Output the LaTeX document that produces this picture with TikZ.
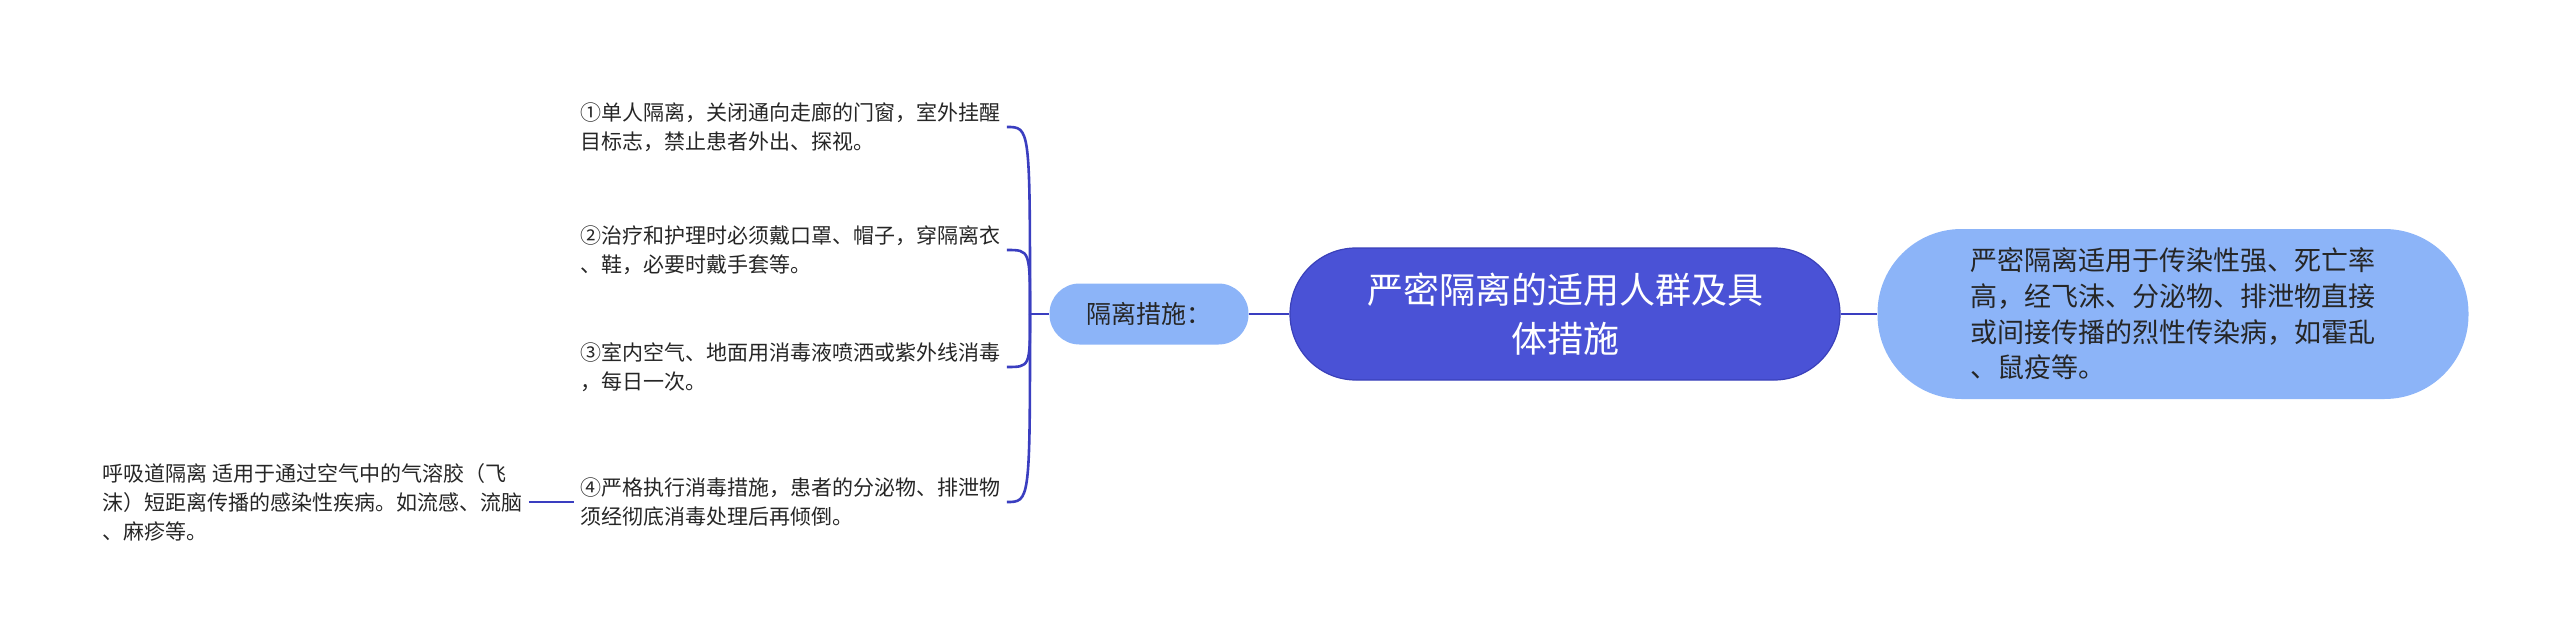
\documentclass[tikz,border=0pt]{standalone}
\usepackage{fontspec}
\setmainfont{Noto Sans CJK SC}
\usetikzlibrary{positioning}
\definecolor{rootblue}{RGB}{74,82,214}
\definecolor{rootedge}{RGB}{58,64,186}
\definecolor{subblue}{RGB}{140,180,248}
\definecolor{linkblue}{RGB}{58,62,192}

\begin{document}
\begin{tikzpicture}[x=0.5pt, y=-0.5pt]
    \tikzstyle{root}=[fill=rootblue, draw=rootedge, line width=0.6pt, text=white, rounded corners=33pt, minimum width=275pt, minimum height=66pt, align=center, font=\fontsize{18pt}{24.5pt}\selectfont]
    \tikzstyle{sub}=[fill=subblue, draw=none, align=left, text=black!85]
    \tikzstyle{item}=[anchor=west, inner sep=3pt, align=left, text=black!85, font=\fontsize{10.5pt}{14.5pt}\selectfont]
    \tikzstyle{link}=[draw=linkblue, line width=1.3pt]
    \useasboundingbox (0,0) rectangle (2560,642);
    \draw (1565,314) node[root] (root) {严密隔离的适用人群及具\\体措施} ;
    \draw (2173,314) node[sub, minimum width=295.5pt, minimum height=85pt, rounded corners=42pt, font=\fontsize{13.5pt}{17.8pt}\selectfont] (scope) {严密隔离适用于传染性强、死亡率\\高，经飞沫、分泌物、排泄物直接\\或间接传播的烈性传染病，如霍乱\\、鼠疫等。} ;
    \draw (1149,314) node[sub, minimum width=99.5pt, minimum height=30.5pt, rounded corners=15pt, font=\fontsize{12.5pt}{15pt}\selectfont] (measures) {隔离措施：} ;
    \draw (574,127) node[item] (m1) {①单人隔离，关闭通向走廊的门窗，室外挂醒\\目标志，禁止患者外出、探视。} ;
    \draw (574,250) node[item] (m2) {②治疗和护理时必须戴口罩、帽子，穿隔离衣\\、鞋，必要时戴手套等。} ;
    \draw (574,367) node[item] (m3) {③室内空气、地面用消毒液喷洒或紫外线消毒\\，每日一次。} ;
    \draw (574,502) node[item] (m4) {④严格执行消毒措施，患者的分泌物、排泄物\\须经彻底消毒处理后再倾倒。} ;
    \draw (96,502) node[item] (resp) {呼吸道隔离 适用于通过空气中的气溶胶（飞\\沫）短距离传播的感染性疾病。如流感、流脑\\、麻疹等。} ;
    \coordinate (fork) at (1030,314) ;
    \draw[link] (root) -- (measures) ;
    \draw[link] (root) -- (scope) ;
    \draw[link] (measures) -- (fork) ;
    \foreach \m in {m1,m2,m3,m4}
        \draw[link] (fork) .. controls (fork |- \m.east) .. (\m.east) ;
    \draw[link] (resp) -- (m4) ;
\end{tikzpicture}
\end{document}
